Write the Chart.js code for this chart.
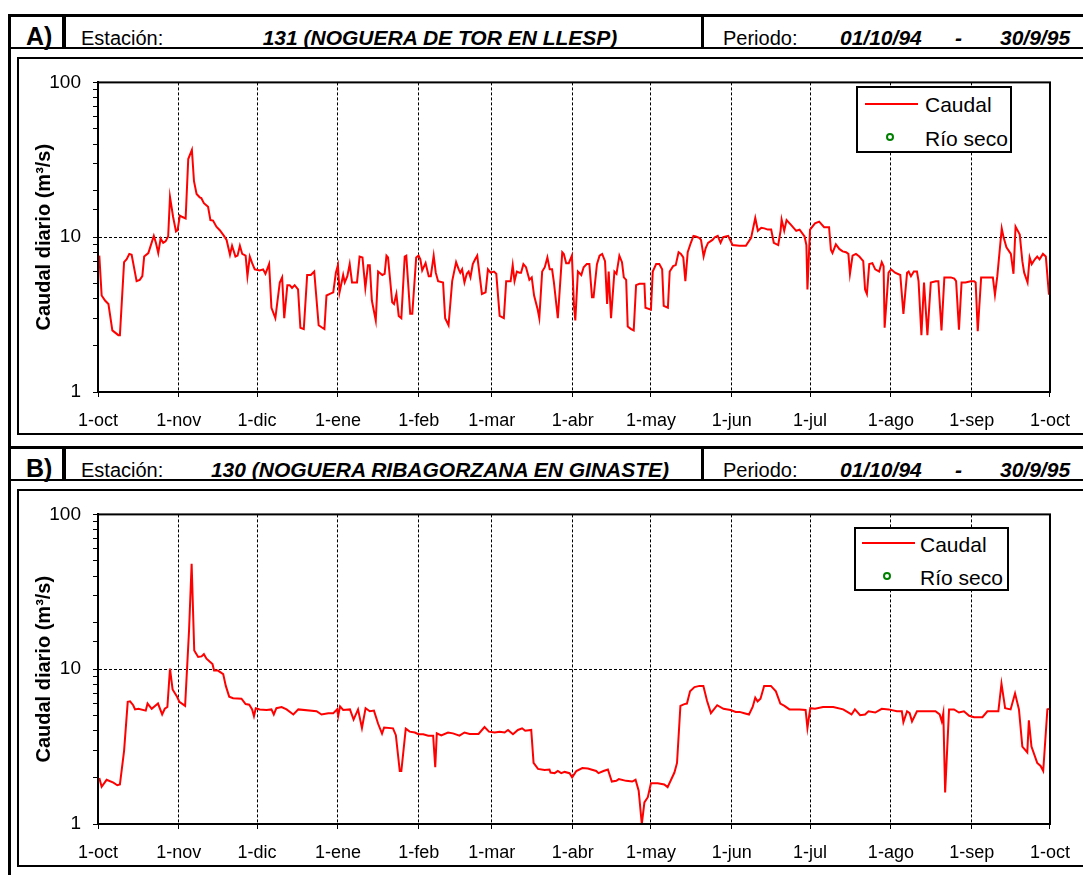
<!DOCTYPE html>
<html>
<head>
<meta charset="utf-8">
<script src="https://cdn.jsdelivr.net/npm/chart.js@4/dist/chart.umd.min.js"></script>
<style>
    html, body { margin: 0; padding: 0; background: #fff; }
    body {
        width: 1083px; height: 875px; overflow: hidden; position: relative;
        font-family: 'Liberation Sans', Arial, sans-serif; color: #000;
    }
    .rule { position: absolute; background: #000; }
    .txt { position: absolute; white-space: nowrap; font-size: 20px; line-height: 20px; }
    .letter { font-weight: bold; font-size: 25px; line-height: 25px; }
    .em { font-weight: bold; font-style: italic; font-size: 21px; line-height: 21px; }
    .ul { text-decoration: underline; text-decoration-thickness: 2px; text-underline-offset: 2px; }
    .title { width: 600px; text-align: center; }
    .box { position: absolute; left: 17px; width: 1100px; height: 378px; border: 2px solid #000; box-sizing: border-box; }
    .plot { position: absolute; left: 19px; }
    .legend { position: absolute; border: 2px solid #000; background: #fff; box-sizing: border-box; }
    .legend .line { position: absolute; height: 2px; width: 53px; background: #FF0000; }
    .legend .dot { position: absolute; width: 8px; height: 8px; border: 2px solid #008000; border-radius: 50%; box-sizing: border-box; }
    .legend .lbl { position: absolute; white-space: nowrap; font-size: 21px; line-height: 21px; }
</style>
</head>
<body>
<script>
// ════════════════════════════════════════
// DATA
// ════════════════════════════════════════

const MONTH_DAYS   = [0, 31, 61, 92, 123, 151, 182, 212, 243, 273, 304, 335, 365];
const MONTH_LABELS = ['1-oct', '1-nov', '1-dic', '1-ene', '1-feb', '1-mar', '1-abr',
                      '1-may', '1-jun', '1-jul', '1-ago', '1-sep', '1-oct'];
const Y_LABELLED   = [1, 10, 100];

const PERIOD_START = '01/10/94';
const PERIOD_END   = '30/9/95';

// A) 131 Noguera de Tor en Llesp — day since 1-oct-94 / m3/s
const DAYS_A = [
    0.5, 1.4, 2.7, 4, 5.5, 7.8, 8.4, 10, 11, 12, 12.9, 14.8, 16, 17, 17.7, 19.3, 21.4, 22.2, 23.1, 24,
    25, 25.9, 26.9, 27.6, 28.8, 29.9, 30.5, 31.4, 32.4, 33.6, 34.6, 36, 36.8, 37.8, 39, 39.6, 40.6, 42.2, 43.1, 44.1,
    45.4, 46.7, 48.3, 49.3, 50.6, 51.4, 52.7, 53.5, 54.4, 55.3, 56.6, 57.3, 58.2, 59.1, 60.1, 62, 63.3, 64.2, 65.6, 66.5,
    68, 69.7, 70.6, 71.4, 72.6, 73.5, 74.4, 75.4, 76.7, 77.6, 78.9, 80.2, 81.6, 82.9, 84.6, 86, 86.8, 87.6, 88.9, 90.2,
    91.2, 92, 92.6, 94, 94.6, 95.6, 96.5, 97.4, 99.3, 100.3, 101.4, 102.5, 103.5, 104.2, 105, 106.5, 107.4, 109, 109.9, 110.6,
    111.2, 112.8, 113.5, 114.4, 115.3, 116.3, 117.6, 118.2, 119.7, 120.5, 122, 122.9, 123.6, 124.3, 125.6, 126.8, 127.6, 128.7, 129.5, 130.4,
    132.3, 133.1, 134.4, 135.8, 137.3, 138.3, 138.9, 139.6, 140.5, 141.4, 142.1, 142.8, 143.7, 144.6, 145.4, 147.2, 148.6, 149.5, 150.5, 151.8,
    152.7, 154, 155.6, 156.5, 158.2, 159, 159.7, 160.6, 161.6, 162.2, 163.1, 164.1, 165.4, 166.3, 167.2, 168.6, 169.2, 170.3, 171.3, 172.3,
    173.2, 174.1, 174.8, 176.3, 178, 178.6, 179.5, 180.5, 181.7, 182.5, 183, 184, 185.3, 186.2, 187.4, 188.4, 189.4, 190, 191.3, 192.3,
    193.3, 194.4, 195.2, 195.8, 196.7, 198, 198.8, 199.9, 200.9, 201.6, 202.5, 203.1, 204.4, 205.4, 206.3, 207.6, 209.5, 209.9, 212, 212.7,
    214, 215.2, 216.3, 216.9, 218.5, 219.2, 220.5, 221.5, 222.6, 223.5, 224.4, 225.2, 226.1, 227.3, 228.3, 229.2, 230.5, 231.2, 232.2, 233,
    233.9, 235.6, 236.5, 237.6, 238.7, 239.7, 241.6, 243.3, 245.9, 248.4, 250.4, 252, 253, 254.3, 255.5, 256.8, 258.1, 259.1, 260.8, 261.7,
    262.1, 263.1, 264, 265.7, 267.7, 269, 270.9, 271.6, 272, 273, 274.9, 276.5, 278.4, 280.3, 281, 281.6, 282.9, 284.2, 285.5, 286.8,
    287.7, 288.3, 289.3, 290.6, 291.9, 293.4, 294.1, 294.8, 295.7, 296.9, 298, 299.5, 300.5, 301.2, 301.6, 303.1, 304.1, 305.6, 307.6, 308.8,
    310.2, 310.8, 311.7, 312.8, 314, 314.6, 315.7, 316.7, 318, 319.3, 321.2, 322.2, 323.4, 324.5, 327, 328.3, 329, 330.1, 331.1, 332.6,
    334.6, 335.9, 336.5, 337.3, 338.6, 343.1, 343.9, 344.8, 346.5, 347.2, 348.3, 350, 351, 351.8, 353.4, 354.4, 355.1, 356.4, 357.2, 358,
    359.2, 360.1, 361, 362.3, 363.4, 364.6,
];
const FLOW_A = [
    7.6, 4.2, 3.9, 3.7, 2.5, 2.33, 2.33, 6.9, 7.2, 7.8, 7.7, 5.2, 5.3, 5.6, 7.5, 7.9, 10.2, 9.2, 7.9, 9.8,
    9.2, 9.4, 10.1, 18.2, 13.5, 10.9, 11.1, 13.8, 13.5, 13.2, 32, 36.6, 23, 19, 18.1, 17.9, 16.6, 15.7, 12.9, 12.8,
    11.7, 11.1, 10.2, 9.6, 7.7, 8.8, 7.5, 7.6, 8.8, 7.8, 7.6, 5.6, 7.5, 6.8, 6.2, 6.1, 6.2, 5.8, 6.7, 3.5,
    3.0, 5.1, 5.5, 3.0, 4.9, 4.9, 4.7, 4.9, 4.6, 2.6, 2.55, 5.7, 5.7, 6.0, 2.7, 2.6, 2.55, 4.2, 4.3, 4.4,
    5.9, 6.6, 4.4, 5.7, 5.1, 5.6, 6.7, 5.1, 5.1, 7.5, 7.4, 4.7, 6.6, 6.6, 3.9, 2.9, 6.0, 5.7, 5.8, 7.6,
    7.4, 3.8, 3.7, 4.3, 3.1, 3.0, 7.5, 7.6, 3.2, 3.2, 7.4, 7.6, 7.2, 6.1, 6.8, 5.6, 5.6, 7.6, 5.9, 5.2,
    5.1, 3.0, 2.7, 5.2, 6.9, 6.2, 5.9, 6.2, 5.1, 5.8, 6.0, 5.5, 6.7, 7.2, 7.6, 4.3, 4.4, 6.2, 5.9, 6.0,
    5.8, 3.1, 3.0, 5.2, 5.2, 6.6, 5.2, 6.0, 5.9, 5.9, 6.7, 6.4, 5.3, 5.5, 4.2, 3.4, 3.0, 6.0, 6.4, 7.4,
    6.2, 6.2, 5.1, 3.0, 8.0, 7.8, 6.8, 6.8, 7.6, 3.6, 2.9, 6.0, 5.7, 6.4, 6.7, 6.7, 4.1, 4.1, 6.7, 7.6,
    7.8, 7.0, 3.7, 6.0, 3.0, 6.0, 5.8, 7.6, 6.9, 5.5, 5.3, 2.65, 2.55, 2.5, 4.9, 5.0, 5.0, 3.5, 3.4, 6.0,
    6.7, 6.7, 6.2, 3.6, 3.5, 6.0, 6.5, 6.6, 8.0, 7.8, 7.4, 5.2, 8.0, 9.2, 10.2, 10.1, 9.9, 9.6, 7.5, 8.5,
    9.2, 9.6, 10.0, 10.2, 9.2, 10.0, 10.2, 8.9, 8.8, 8.8, 9.9, 13.3, 11.0, 11.5, 11.4, 11.2, 11.2, 9.2, 8.9, 11.0,
    13.0, 11.0, 12.9, 12.0, 11.0, 11.2, 10.1, 8.9, 4.6, 11.2, 12.3, 12.6, 11.6, 11.6, 8.3, 7.9, 9.0, 8.4, 8.1, 8.0,
    7.8, 5.8, 7.6, 7.8, 7.5, 7.0, 4.6, 4.3, 6.7, 6.8, 6.2, 6.0, 6.9, 6.5, 2.6, 5.9, 6.2, 5.9, 5.7, 3.2,
    5.9, 6.0, 5.6, 6.0, 6.0, 5.2, 2.33, 5.1, 2.33, 5.1, 5.2, 5.2, 2.5, 5.5, 5.5, 5.4, 5.2, 2.53, 5.1, 5.1,
    5.2, 5.2, 5.1, 2.47, 5.5, 5.5, 4.25, 5.6, 11.4, 10.0, 8.6, 7.8, 5.8, 11.7, 10.4, 7.0, 5.9, 5.1, 7.4, 6.7,
    7.2, 7.5, 7.2, 7.8, 7.5, 4.25,
];

// B) 130 Noguera Ribagorzana en Ginaste
const DAYS_B = [
    0.5, 1.4, 3.3, 5.9, 7.4, 8.4, 10, 11.4, 12.3, 13.5, 14.2, 15.5, 18.3, 19, 20.6, 23, 24.6, 25.6, 26.6, 27.6,
    28.6, 30.2, 31.2, 33.4, 34.9, 35.9, 36.9, 38.4, 39.7, 40.6, 41.6, 42.8, 43.9, 44.5, 46, 48, 49, 50.3, 51.8, 55,
    56.6, 58, 59.1, 59.8, 60.5, 62, 64.6, 66.5, 67.4, 68.4, 70.4, 72.3, 74.9, 76.8, 83.8, 85.7, 88.3, 90.2, 91.7, 92.1,
    92.8, 94, 96.6, 98, 99.7, 101.2, 102.6, 104.2, 105.8, 107.4, 108.9, 109.7, 113.1, 114.2, 115.7, 116.3, 118, 119.5, 121.5, 122.8,
    124.7, 126.6, 128.5, 129.3, 129.9, 131.6, 134.2, 136.1, 138.6, 140.5, 142.5, 145.9, 148.2, 149.9, 152.1, 154, 155.9, 157.2, 159.1, 161,
    162.6, 163.8, 166.1, 167, 168.7, 171.2, 173.1, 173.5, 175.1, 176.3, 177.6, 178.9, 180.8, 181.8, 183.4, 185.7, 187.8, 191, 191.9, 193.8,
    195.5, 197, 198.7, 199.7, 202.5, 204.8, 206.1, 207.3, 208.5, 209.5, 210.8, 212, 214.6, 217.1, 218.4, 221, 222, 223.3, 224.8, 225.8,
    227, 228.7, 230.6, 232.1, 233.5, 235, 237.4, 239.8, 242.5, 244.5, 246, 247.8, 249.6, 251, 252, 252.9, 254, 255.4, 258, 259.9,
    261.6, 263.2, 265.1, 269, 271.3, 272, 273.1, 274.9, 278, 281.9, 285.7, 288.9, 290.2, 292.2, 294.1, 295.4, 298, 300.5, 303.1, 306.3,
    308.2, 308.8, 310.2, 311.2, 312.1, 314, 316.6, 321.1, 322.7, 323.5, 324.1, 324.8, 326.3, 328.2, 330.1, 332, 334, 335.9, 339.1, 341,
    345.2, 346.4, 347.8, 349.9, 351.6, 353.1, 354.4, 356.3, 356.9, 357.9, 360.1, 361.4, 362.4, 364, 364.6,
];
const FLOW_B = [
    1.98, 1.74, 1.93, 1.85, 1.78, 1.8, 2.97, 6.15, 6.2, 5.85, 5.5, 5.55, 5.4, 6.0, 5.55, 6.0, 5.1, 5.55, 5.7, 10.1,
    7.4, 6.7, 6.15, 5.8, 17.7, 48, 13.2, 12.0, 12.1, 12.5, 11.7, 11.2, 10.8, 9.8, 9.8, 9.3, 7.8, 6.65, 6.5, 6.45,
    5.95, 5.9, 5.5, 4.97, 5.6, 5.5, 5.45, 5.5, 5.1, 5.6, 5.7, 5.5, 5.1, 5.5, 5.35, 5.1, 5.2, 5.2, 5.5, 5.0,
    5.75, 5.45, 5.5, 4.73, 5.5, 4.17, 5.6, 5.35, 5.4, 4.44, 3.84, 4.2, 4.15, 3.75, 2.2, 2.2, 4.13, 3.95, 3.9, 3.8,
    3.8, 3.72, 3.72, 2.33, 3.85, 3.73, 3.9, 3.85, 3.72, 3.9, 3.82, 3.82, 4.23, 3.95, 3.9, 3.95, 3.9, 4.05, 3.8, 4.05,
    4.15, 4.0, 4.05, 2.48, 2.27, 2.23, 2.25, 2.15, 2.13, 2.2, 2.13, 2.17, 2.13, 2.0, 2.2, 2.3, 2.28, 2.2, 2.13, 2.2,
    2.25, 1.88, 1.9, 1.95, 1.9, 1.88, 1.93, 1.64, 1.0, 1.38, 1.49, 1.83, 1.83, 1.8, 1.73, 2.15, 2.48, 5.8, 5.95, 6.0,
    7.2, 7.66, 7.8, 7.8, 6.25, 5.2, 5.85, 5.55, 5.45, 5.3, 5.3, 5.2, 5.1, 5.7, 6.55, 6.2, 6.45, 7.8, 7.8, 7.2,
    6.0, 5.8, 5.5, 5.5, 5.45, 4.17, 5.6, 5.55, 5.7, 5.7, 5.5, 5.1, 5.5, 5.05, 5.1, 5.35, 5.25, 5.55, 5.5, 5.35,
    5.35, 4.55, 5.35, 5.2, 4.6, 5.35, 5.35, 5.35, 5.1, 4.6, 5.2, 1.6, 5.5, 5.5, 5.25, 5.35, 5.0, 4.9, 4.9, 5.35,
    5.35, 8.07, 5.6, 5.5, 6.98, 5.5, 3.16, 2.9, 4.67, 3.16, 2.48, 2.37, 2.2, 5.5, 5.55,
];

// ════════════════════════════════════════
// STYLE
// ════════════════════════════════════════

const FONT = "'Liberation Sans', Arial, sans-serif";
const CAUDAL_COLOR = '#FF0000';
const SECO_COLOR = '#008000';

const PANELS = [
    { id: 'A', top: 0,   station: '131 (NOGUERA DE TOR EN LLESP)',        days: DAYS_A, flows: FLOW_A,
      legend: { left: 856, top: 86, w: 156, h: 67, lineX: 7, lineY: 15, txtX: 67, cauY: 6, dotX: 28, dotY: 45, secoY: 40 } },
    { id: 'B', top: 432, station: '130 (NOGUERA RIBAGORZANA EN GINASTE)', days: DAYS_B, flows: FLOW_B,
      legend: { left: 854, top: 95,  w: 155, h: 64, lineX: 6, lineY: 13, txtX: 64, cauY: 5, dotX: 27, dotY: 43, secoY: 38 } },
];

// ════════════════════════════════════════
// DOM helpers
// ════════════════════════════════════════

function add(parent, tag, cls, css, text) {
    const e = document.createElement(tag);
    if (cls) e.className = cls;
    Object.assign(e.style, css || {});
    if (text !== undefined) e.textContent = text;
    parent.appendChild(e);
    return e;
}
const px = v => v + 'px';
const rule = (x, y, w, h) => add(document.body, 'div', 'rule', { left: px(x), top: px(y), width: px(w), height: px(h) });
const text = (s, x, y, cls) => add(document.body, 'div', 'txt ' + (cls || ''), { left: px(x), top: px(y) }, s);

// ════════════════════════════════════════
// chart frame: Excel style box round the plot area
// ════════════════════════════════════════

const framePlugin = {
    id: 'frame',
    afterDraw(chart) {
        const { ctx, chartArea: a } = chart;
        ctx.save();
        ctx.strokeStyle = '#000';
        ctx.lineWidth = 2;
        ctx.strokeRect(a.left, a.top, a.right - a.left, a.bottom - a.top);
        ctx.restore();
    },
};

const isDecade = v => Math.abs(Math.log10(v) - Math.round(Math.log10(v))) < 1e-6;

function buildFlowChart(canvas, days, flows) {
    const points = days.map((d, i) => ({ x: d, y: flows[i] }));
    return new Chart(canvas, {
        type: 'line',
        data: {
            datasets: [
                {
                    label: 'Caudal',
                    data: points,
                    borderColor: CAUDAL_COLOR,
                    borderWidth: 2,
                    pointRadius: 0,
                    tension: 0,
                    fill: false,
                },
                {
                    label: 'Río seco',
                    data: [],
                    showLine: false,
                    pointStyle: 'circle',
                    pointRadius: 3,
                    borderColor: SECO_COLOR,
                    backgroundColor: '#fff',
                },
            ],
        },
        options: {
            responsive: false,
            animation: false,
            devicePixelRatio: 1,
            layout: { padding: { top: 17, right: 32, left: 0, bottom: 0 } },
            plugins: { legend: { display: false }, tooltip: { enabled: false } },
            scales: {
                x: {
                    type: 'linear',
                    min: 0,
                    max: 365,
                    afterBuildTicks: s => { s.ticks = MONTH_DAYS.map(v => ({ value: v })); },
                    afterFit: s => { s.height = 40; },
                    ticks: {
                        autoSkip: false,
                        maxRotation: 0,
                        padding: 13,
                        color: '#000',
                        font: { family: FONT, size: 18 },
                        callback: (v, i) => MONTH_LABELS[i],
                    },
                    grid: { color: '#000', lineWidth: 1, tickLength: 5, tickColor: '#000', tickWidth: 1 },
                    border: { display: true, color: '#000', width: 2, dash: [3, 2] },
                },
                y: {
                    type: 'logarithmic',
                    min: 1,
                    max: 100,
                    afterFit: s => { s.width = 79; },
                    ticks: {
                        autoSkip: false,
                        padding: 12,
                        color: '#000',
                        font: { family: FONT, size: 19 },
                        callback: v => (isDecade(v) && Y_LABELLED.includes(Math.round(v)) ? String(Math.round(v)) : ''),
                    },
                    grid: {
                        color: c => (c.tick && Math.round(c.tick.value) === 10 ? '#000' : 'rgba(0,0,0,0)'),
                        lineWidth: 1,
                        tickLength: 5,
                        tickColor: '#000',
                        tickWidth: 1,
                    },
                    border: { display: true, color: '#000', width: 2, dash: [3, 2] },
                    title: {
                        display: true,
                        text: 'Caudal diario (m³/s)',
                        color: '#000',
                        font: { family: FONT, size: 20, weight: 'bold' },
                        padding: { top: 13, bottom: 0 },
                    },
                },
            },
        },
        plugins: [framePlugin],
    });
}

// ════════════════════════════════════════
// PANELS
// ════════════════════════════════════════

function buildPanel(p) {
    const t = p.top;

    // header strip
    rule(8, t + 14, 1075, 3);
    rule(8, t + 47, 1075, 2);
    rule(62, t + 14, 4, 35);
    rule(701, t + 14, 3, 35);
    text(p.id + ')', 26, t + 24, 'letter');
    text('Estación:', 81, t + 28);
    text(p.station, 140, t + 27, 'em ul title');
    text('Periodo:', 723, t + 28);
    text(PERIOD_START, 840, t + 27, 'em ul');
    text('-', 955, t + 27, 'em');
    text(PERIOD_END, 1000, t + 27, 'em ul');

    // chart box
    add(document.body, 'div', 'box', { top: px(t + 57) });
    const canvas = add(document.body, 'canvas', 'plot', { top: px(t + 59) });
    canvas.width = 1064;
    canvas.height = 373;
    buildFlowChart(canvas, p.days, p.flows);

    // legend
    const L = p.legend;
    const lg = add(document.body, 'div', 'legend', {
        left: px(L.left), top: px(t + L.top), width: px(L.w), height: px(L.h),
    });
    add(lg, 'div', 'line', { left: px(L.lineX), top: px(L.lineY) });
    add(lg, 'div', 'lbl', { left: px(L.txtX), top: px(L.cauY) }, 'Caudal');
    add(lg, 'div', 'dot', { left: px(L.dotX), top: px(L.dotY) });
    add(lg, 'div', 'lbl', { left: px(L.txtX), top: px(L.secoY) }, 'Río seco');
}

rule(8, 14, 3, 861);
PANELS.forEach(buildPanel);
</script>
</body>
</html>
